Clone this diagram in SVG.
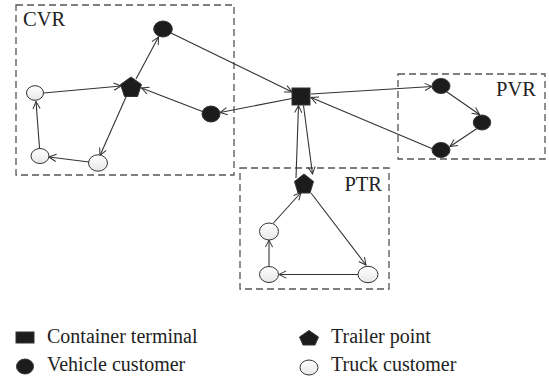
<svg xmlns="http://www.w3.org/2000/svg" width="549" height="379" viewBox="0 0 549 379">
<defs>
<marker id="arr" viewBox="0 0 10 10" refX="9" refY="5" markerWidth="9" markerHeight="9" markerUnits="userSpaceOnUse" orient="auto">
<path d="M1,1 L9,5 L1,9" fill="none" stroke="#333" stroke-width="1.1"/>
</marker>
<linearGradient id="tg" x1="0" y1="0" x2="0" y2="1">
<stop offset="0" stop-color="#ffffff"/>
<stop offset="1" stop-color="#e8e8e8"/>
</linearGradient>
</defs>
<style>
.box{fill:none;stroke:#555;stroke-width:1.3;stroke-dasharray:7 4}
.lbl{font-family:"Liberation Serif","Times New Roman",serif;font-size:20.5px;fill:#222}
.leg{font-family:"Liberation Serif","Times New Roman",serif;font-size:20px;fill:#222}
.veh{fill:#1c1c1c;stroke:#333;stroke-width:1}
.trk{fill:url(#tg);stroke:#333;stroke-width:1}
.trl{fill:#1c1c1c;stroke:#333;stroke-width:1}
.term{fill:#1c1c1c;stroke:#333;stroke-width:1}
.e{fill:none;stroke:#333;stroke-width:1.1;marker-end:url(#arr)}
</style>
<rect width="549" height="379" fill="#fff"/>

<g id="regions">
<g id="CVR"><rect class="box" x="16" y="5" width="218" height="170"/><text class="lbl" x="23" y="26">CVR</text></g>
<g id="PVR"><rect class="box" x="398" y="74" width="147" height="85"/><text class="lbl" x="536" y="96" text-anchor="end">PVR</text></g>
<g id="PTR"><rect class="box" x="240" y="168" width="149" height="121"/><text class="lbl" x="382" y="191" text-anchor="end">PTR</text></g>
</g>

<g id="connectors">
<line class="e" x1="136" y1="79" x2="158.5" y2="37"/>
<line class="e" x1="171" y1="33" x2="292" y2="92"/>
<line class="e" x1="292" y1="98.5" x2="220" y2="112.5"/>
<line class="e" x1="202.5" y1="111.5" x2="141.5" y2="88"/>
<line class="e" x1="43.5" y1="93" x2="121" y2="86"/>
<line class="e" x1="126" y1="97" x2="100" y2="155.5"/>
<line class="e" x1="89" y1="162" x2="49" y2="157"/>
<line class="e" x1="39.5" y1="148" x2="36" y2="101.5"/>
<line class="e" x1="311" y1="94" x2="432" y2="86.5"/>
<line class="e" x1="447" y1="92" x2="479.5" y2="114.5"/>
<line class="e" x1="477" y1="128.5" x2="450" y2="146.5"/>
<line class="e" x1="433" y1="149" x2="311" y2="97.5"/>
<line class="e" x1="296" y1="178" x2="298.5" y2="105.5"/>
<line class="e" x1="303.5" y1="105.5" x2="312.5" y2="174"/>
<line class="e" x1="311" y1="193" x2="366" y2="265"/>
<line class="e" x1="358.5" y1="274.5" x2="279" y2="274.5"/>
<line class="e" x1="269" y1="266.5" x2="269" y2="240"/>
<line class="e" x1="273" y1="223.5" x2="301" y2="192.5"/>
</g>

<g id="n_terminal"><rect class="term" x="292" y="88" width="18" height="17"/></g>
<g id="n_cvr_trailer"><polygon class="trl" points="131,77 141.5,84.5 137.5,96.5 124.5,96.5 120.5,84.5"/></g>
<g id="n_cvr_v1"><ellipse class="veh" cx="163" cy="29" rx="9.3" ry="8"/></g>
<g id="n_cvr_v2"><ellipse class="veh" cx="211" cy="114" rx="9" ry="8"/></g>
<g id="n_cvr_t1"><ellipse class="trk" cx="35" cy="93" rx="8.5" ry="7.3"/></g>
<g id="n_cvr_t2"><ellipse class="trk" cx="40" cy="156" rx="9" ry="7.5"/></g>
<g id="n_cvr_t3"><ellipse class="trk" cx="98" cy="163" rx="9.5" ry="8.2"/></g>
<g id="n_pvr_v1"><ellipse class="veh" cx="441" cy="86" rx="9" ry="7.5"/></g>
<g id="n_pvr_v2"><ellipse class="veh" cx="482" cy="122.5" rx="8.7" ry="7.5"/></g>
<g id="n_pvr_v3"><ellipse class="veh" cx="441" cy="150" rx="9" ry="7.5"/></g>
<g id="n_ptr_trailer"><polygon class="trl" points="304,174 313.5,181.5 310,193 298,193 294.5,181.5"/></g>
<g id="n_ptr_t1"><ellipse class="trk" cx="269" cy="231.5" rx="9.5" ry="8.5"/></g>
<g id="n_ptr_t2"><ellipse class="trk" cx="269" cy="274.5" rx="9.5" ry="8"/></g>
<g id="n_ptr_t3"><ellipse class="trk" cx="368" cy="274.5" rx="10" ry="8.2"/></g>

<g id="legend">
<g id="leg_terminal"><rect class="term" x="16" y="332" width="18" height="11"/><text class="leg" x="47" y="343">Container terminal</text></g>
<g id="leg_vehicle"><ellipse class="veh" cx="25" cy="366.5" rx="8.5" ry="7.5"/><text class="leg" x="47" y="371">Vehicle customer</text></g>
<g id="leg_trailer"><polygon class="trl" points="309,330.5 318.5,337 315,345 303,345 299.5,337"/><text class="leg" x="331" y="343">Trailer point</text></g>
<g id="leg_truck"><ellipse class="trk" cx="309" cy="367.5" rx="9" ry="7.5"/><text class="leg" x="331" y="371">Truck customer</text></g>
</g>
</svg>
